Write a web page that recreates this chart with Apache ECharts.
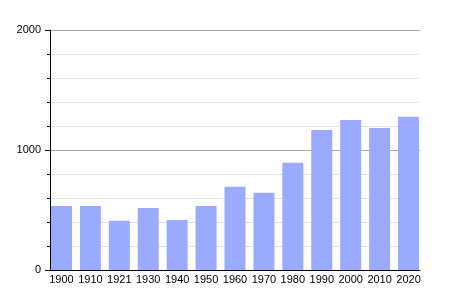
<!DOCTYPE html>
<html>
<head>
<meta charset="utf-8">
<script src="https://cdn.jsdelivr.net/npm/echarts@6/dist/echarts.min.js"></script>
<style>html,body{margin:0;padding:0;background:#fff}#c{width:450px;height:300px}</style>
</head>
<body>
<div id="c"></div>
<script>
var years = ['1900','1910','1921','1930','1940','1950','1960','1970','1980','1990','2000','2010','2020'];
var population = [533, 533, 410, 517, 417, 533, 694, 644, 894, 1167, 1250, 1183, 1278];
var yMin = 0, yMax = 2000, yStep = 1000;

var font = 'Liberation Sans, Arial, sans-serif';
var chart = echarts.init(document.getElementById('c'), null, {renderer: 'canvas'});
chart.setOption({
  animation: false,
  backgroundColor: '#fff',
  grid: [
    {left: 50, right: 30, top: 30, bottom: 30},
    {left: 47, right: 27, top: 30, bottom: 30}
  ],
  xAxis: [
    {gridIndex: 0, type: 'category', data: years,
     axisLine: {lineStyle: {color: '#000', width: 1}},
     axisTick: {show: false}, axisLabel: {show: false}, splitLine: {show: false}},
    {gridIndex: 1, type: 'category', data: years,
     axisLine: {show: false}, axisTick: {show: false},
     axisLabel: {color: '#000', fontSize: 11, fontFamily: font, margin: 4, interval: 0}}
  ],
  yAxis: [
    {gridIndex: 0, type: 'value', min: yMin, max: yMax, interval: yStep,
     axisLine: {show: true, lineStyle: {color: '#000'}},
     axisTick: {show: true, length: 5, lineStyle: {color: '#000'}},
     minorTick: {show: true, splitNumber: 5, length: 3, lineStyle: {color: '#000'}},
     axisLabel: {color: '#000', fontSize: 11, fontFamily: font, margin: 9,
                 formatter: function (v) { return String(v); }},
     splitLine: {show: true, lineStyle: {color: '#aaaaaa'}},
     minorSplitLine: {show: true, lineStyle: {color: '#e2e2e2'}}},
    {gridIndex: 1, type: 'value', min: yMin, max: yMax, interval: yStep, show: false,
     splitLine: {show: false}}
  ],
  series: [{
    type: 'bar', xAxisIndex: 1, yAxisIndex: 1, data: population,
    barWidth: 21, itemStyle: {color: '#99aaff'}
  }]
});
</script>
</body>
</html>
